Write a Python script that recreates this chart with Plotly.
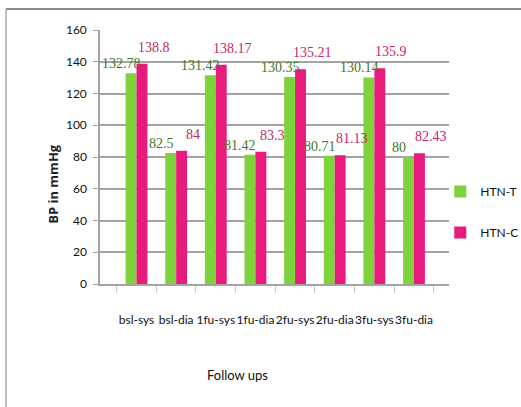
import plotly.graph_objects as go

# Blood pressure at baseline and follow-ups, treated vs control groups
follow_ups = ["bsl-sys", "bsl-dia", "1fu-sys", "1fu-dia", "2fu-sys", "2fu-dia", "3fu-sys", "3fu-dia"]
htn_t = [132.78, 82.5, 131.42, 81.42, 130.35, 80.71, 130.14, 80]
htn_c = [138.8, 84, 138.17, 83.3, 135.21, 81.13, 135.9, 82.43]
y_ticks = [0, 20, 40, 60, 80, 100, 120, 140, 160]

GREEN = "#7ED23B"
PINK = "#E91A7E"
GREEN_TXT = "#4A7526"
PINK_TXT = "#BF2A6A"
GRID = "#a3a3a3"

fig = go.Figure()
fig.add_trace(go.Bar(x=follow_ups, y=htn_t, name="HTN-T", marker_color=GREEN,
                     marker_line_width=0, legendgroup="t"))
fig.add_trace(go.Bar(x=follow_ups, y=htn_c, name="HTN-C", marker_color=PINK,
                     marker_line_width=0, legendgroup="c"))

# value labels above each bar
annotations = []
for cat, v in zip(follow_ups, htn_t):
    annotations.append(dict(x=cat, y=v, xref="x", yref="y", text=f"{v:g}", showarrow=False,
                            xanchor="center", yanchor="bottom", xshift=-15, yshift=0,
                            font=dict(family="Liberation Serif", size=14, color=GREEN_TXT)))
for cat, v in zip(follow_ups, htn_c):
    annotations.append(dict(x=cat, y=v, xref="x", yref="y", text=f"{v:g}", showarrow=False,
                            xanchor="center", yanchor="bottom", xshift=17, yshift=7,
                            font=dict(family="Liberation Serif", size=14, color=PINK_TXT)))

annotations.append(dict(x=-0.135, y=0.394, xref="paper", yref="paper", text="<b>BP in mmHg</b>",
                        textangle=-90, showarrow=False, xanchor="center", yanchor="middle",
                        font=dict(family="Open Sans", size=13, color="#222222")))
annotations.append(dict(x=0.393, y=-0.358, xref="paper", yref="paper", text="Follow ups",
                        showarrow=False, xanchor="center", yanchor="middle",
                        font=dict(family="Lato", size=13, color="#111111")))

# outer frame: top edge and left edge, in pixel positions converted to paper units
L, R, T, B = 100, 72, 30, 123
W, H = 521, 407
pw, ph = W - L - R, H - T - B
frame_left = (6 - L) / pw
frame_right = (W - L) / pw
frame_top = (H - B - 9) / ph
frame_bottom = (H - B - H) / ph

fig.update_layout(
    width=W, height=H,
    margin=dict(l=L, r=R, t=T, b=B, autoexpand=False),
    paper_bgcolor="white", plot_bgcolor="white",
    barmode="group", bargap=0.45, bargroupgap=0,
    showlegend=True,
    legend=dict(x=0.975, y=0.283, xanchor="left", yanchor="middle",
                traceorder="grouped", tracegroupgap=22, itemwidth=30,
                font=dict(family="Lato", size=12, color="#111111"),
                bgcolor="rgba(0,0,0,0)", borderwidth=0),
    annotations=annotations,
    shapes=[
        dict(type="line", xref="paper", yref="paper", x0=frame_left, x1=frame_right,
             y0=frame_top, y1=frame_top, line=dict(color="#8a8a8a", width=2)),
        dict(type="line", xref="paper", yref="paper", x0=frame_left, x1=frame_left,
             y0=frame_top, y1=frame_bottom, line=dict(color="#a8a8a8", width=1.5)),
    ],
)

fig.update_xaxes(
    type="category", showline=True, linecolor=GRID, linewidth=1.5,
    ticks="outside", tickson="boundaries", ticklen=7, tickcolor="#c8c8c8", tickwidth=1,
    ticklabelstandoff=24, tickangle=0,
    tickfont=dict(family="Lato", size=12, color="#111111"),
    showgrid=False,
)
fig.update_yaxes(
    range=[0, 160], tickvals=y_ticks, ticktext=[str(t) for t in y_ticks],
    showgrid=True, gridcolor=GRID, gridwidth=1.5,
    showline=True, linecolor=GRID, linewidth=1.5,
    ticks="outside", ticklen=5, tickcolor=GRID, ticklabelstandoff=4,
    tickfont=dict(family="Lato", size=12, color="#111111"),
    zeroline=False,
)

fig.write_html("out.html", config={"displayModeBar": False})
